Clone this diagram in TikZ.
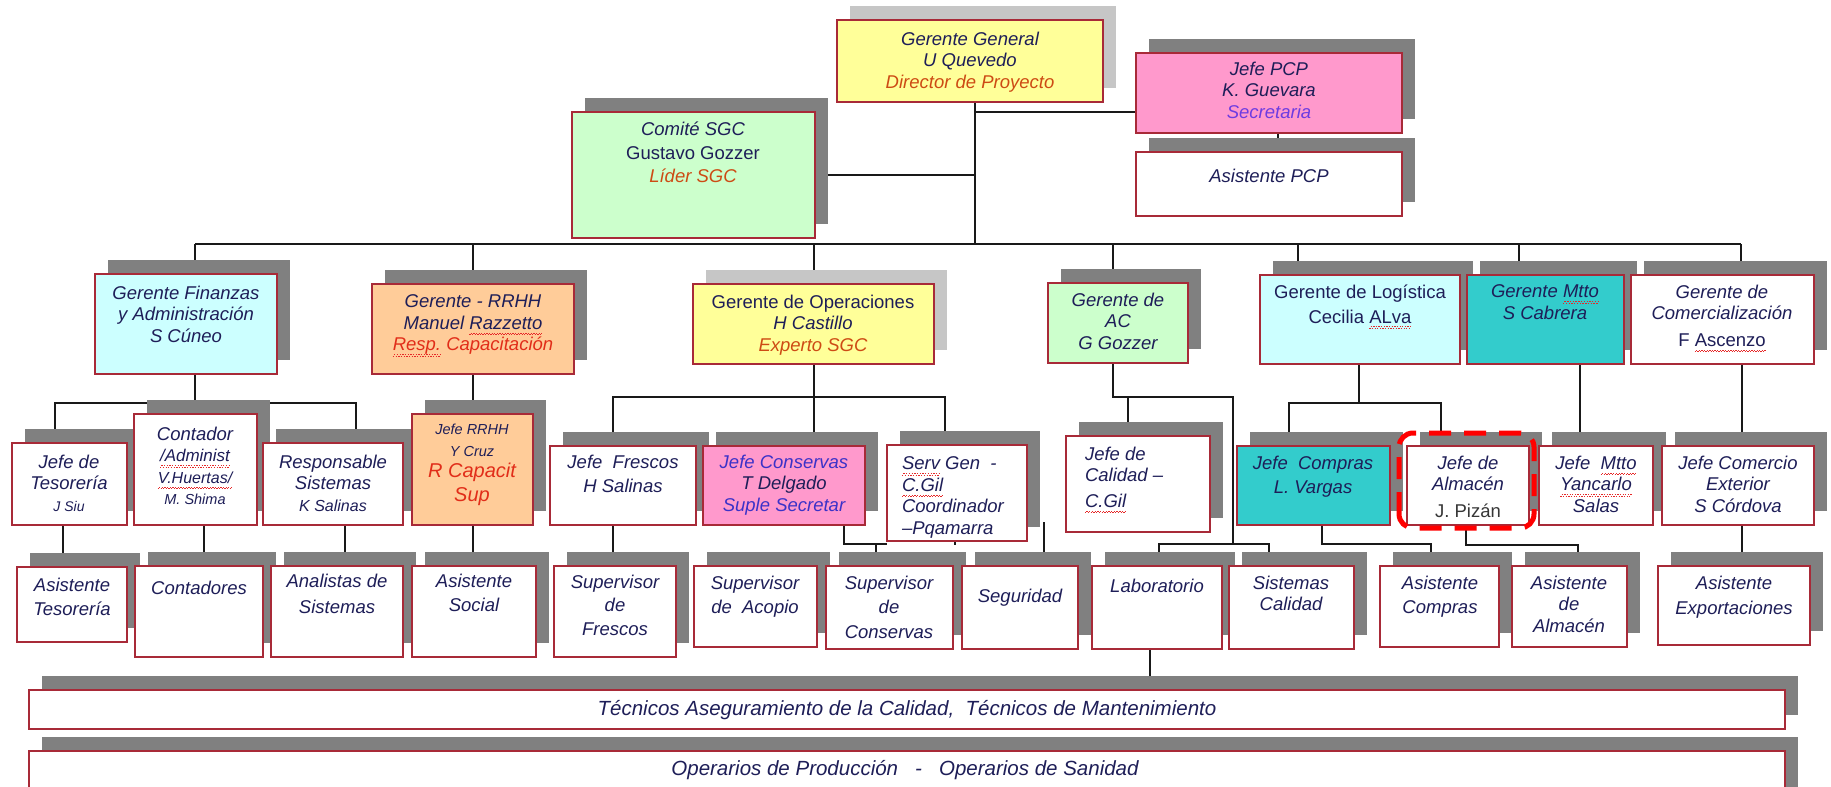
\documentclass[tikz,border=0pt]{standalone}
\usepackage{fontspec}
\setmainfont{Liberation Sans}
\usetikzlibrary{shadows,backgrounds}

\definecolor{cInk}{RGB}{30,30,88}
\definecolor{cFrame}{RGB}{168,42,56}
\definecolor{cLine}{RGB}{25,25,25}
\definecolor{cShDark}{RGB}{128,128,128}
\definecolor{cShLight}{RGB}{198,198,198}
\definecolor{cYellow}{RGB}{255,255,153}
\definecolor{cPink}{RGB}{255,153,204}
\definecolor{cGreen}{RGB}{204,255,204}
\definecolor{cCyan}{RGB}{204,255,255}
\definecolor{cPeach}{RGB}{255,204,153}
\definecolor{cTeal}{RGB}{51,204,204}
\definecolor{cRed}{RGB}{225,45,25}
\definecolor{cOrange}{RGB}{205,75,20}
\definecolor{cViolet}{RGB}{110,60,225}
\definecolor{cBlue}{RGB}{60,50,200}
\definecolor{cGrayTxt}{RGB}{55,55,55}
\definecolor{cHilite}{RGB}{255,0,0}
\definecolor{cSpell}{RGB}{230,40,40}

\pgfdeclarelayer{paper}
\pgfsetlayers{paper,background,main}

\tikzset{
  boxbase/.style={rectangle, draw=cFrame, line width=1.5pt, fill=white, inner sep=0pt, outer sep=0pt},
  box/.style={boxbase, general shadow={fill=cShDark, shadow xshift=13pt, shadow yshift=14pt}},
  lbox/.style={boxbase, general shadow={fill=cShLight, shadow xshift=13pt, shadow yshift=14pt}},
  txt/.style={anchor=north, inner sep=0pt, outer sep=0pt, align=center, text=cInk,
    font=\fontsize{18.5}{21.5}\selectfont\itshape, execute at begin node={\rule{0pt}{16.5pt}}},
  ltxt/.style={txt, anchor=north west, align=left},
  wtxt/.style={txt, font=\fontsize{20.5}{24}\selectfont\itshape},
  conn/.style={draw=cLine, line width=1.6pt},
  focus/.style={draw=cHilite, line width=5pt, dash pattern=on 22pt off 13pt, rounded corners=14pt}
}

% \orgbox[style]{name}{x1}{y1}{x2}{y2}{fill}
\newcommand\orgbox[7][box]{%
  \node[#1, fill=#7, minimum width={(#5-#3)*1pt}, minimum height={(#6-#4)*1pt}] (#2) at ({(#3+#5)/2},{(#4+#6)/2}) {};}
\newcommand\sz[1]{\fontsize{#1}{#1}\selectfont}
% red wavy underline of a flagged word, built from tiny rules
\newsavebox\spellbox
\newcommand\spell[1]{\sbox\spellbox{#1}%
  \rlap{\textcolor{cSpell}{\hbox to \wd\spellbox{\xleaders\hbox{\rule[-5.6pt]{1.3pt}{1pt}\rule[-4.2pt]{1.3pt}{1pt}}\hfil}}}%
  \usebox\spellbox}

\begin{document}
\begin{tikzpicture}[x=1pt,y=-1pt]
\path[use as bounding box] (0,0) rectangle (1831,787);
\clip (0,0) rectangle (1831,787);
\begin{pgfonlayer}{paper}
\fill[white] (0,0) rectangle (1831,787);
\end{pgfonlayer}

% ---------- top management ----------
\orgbox[lbox]{gg}{837}{20}{1103}{102}{cYellow}
\orgbox{pcp}{1136}{53}{1402}{133}{cPink}
\orgbox{com}{572}{112}{815}{238}{cGreen}
\orgbox{apcp}{1136}{152}{1402}{216}{white}

% ---------- managers ----------
\orgbox{fin}{95}{274}{277}{374}{cCyan}
\orgbox{rrhh}{372}{284}{574}{374}{cPeach}
\orgbox[lbox]{ope}{693}{284}{934}{364}{cYellow}
\orgbox{ac}{1048}{283}{1188}{363}{cGreen}
\orgbox{log}{1260}{275}{1460}{364}{cCyan}
\orgbox{mtto}{1467}{275}{1624}{364}{cTeal}
\orgbox{cmz}{1631}{275}{1814}{364}{white}

% ---------- heads ----------
\orgbox{teso}{12}{443}{127}{525}{white}
\orgbox{cont}{134}{414}{257}{525}{white}
\orgbox{rsis}{263}{443}{403}{525}{white}
\orgbox{jrrhh}{412}{414}{533}{525}{cPeach}
\orgbox{fres}{550}{446}{696}{525}{white}
\orgbox{cons}{703}{446}{865}{525}{cPink}
\orgbox{sgen}{887}{445}{1027}{541}{white}
\orgbox{cal}{1066}{436}{1210}{532}{white}
\orgbox{comp}{1237}{446}{1390}{525}{cTeal}
\orgbox{alm}{1407}{446}{1529}{525}{white}
\orgbox{jmtto}{1539}{446}{1653}{525}{white}
\orgbox{jcex}{1662}{446}{1814}{525}{white}

% ---------- staff ----------
\orgbox{ates}{17}{567}{127}{642}{white}
\orgbox{conts}{135}{566}{263}{657}{white}
\orgbox{anal}{271}{566}{403}{657}{white}
\orgbox{asoc}{412}{566}{536}{657}{white}
\orgbox{sfres}{554}{566}{676}{657}{white}
\orgbox{sacop}{694}{566}{817}{647}{white}
\orgbox{scons}{826}{566}{953}{649}{white}
\orgbox{segu}{962}{566}{1078}{649}{white}
\orgbox{lab}{1092}{566}{1222}{649}{white}
\orgbox{scal}{1229}{566}{1354}{649}{white}
\orgbox{acom}{1380}{566}{1499}{647}{white}
\orgbox{aalm}{1512}{566}{1627}{647}{white}
\orgbox{aexp}{1658}{566}{1810}{645}{white}

% ---------- operating staff ----------
\orgbox{tec}{29}{690}{1785}{729}{white}
\orgbox{opr}{29}{751}{1785}{805}{white}

% ---------- texts ----------
\node[txt] (t-gg) at (970,32) {Gerente General\\U Quevedo\\{\color{cOrange}Director de Proyecto}};
\node[txt] (t-pcp) at (1269,62) {Jefe PCP\\K. Guevara\\{\color{cViolet}Secretaria}};
\node[txt] (t-com) at (693,122) {Comité SGC\\[2pt]{\upshape Gustavo Gozzer}\\[2pt]{\color{cOrange}Líder SGC}};
\node[txt] (t-apcp) at (1269,166) {Asistente PCP};

\node[txt] (t-fin) at (186,286) {Gerente Finanzas\\y Administración\\S Cúneo};
\node[txt] (t-rrhh) at (473,295) {Gerente - RRHH\\Manuel \spell{Razzetto}\\{\color{cRed}\spell{Resp.} Capacitación}};
\node[txt] (t-ope) at (813,295) {{\upshape Gerente de Operaciones}\\H Castillo\\{\color{cOrange}Experto SGC}};
\node[txt] (t-ac) at (1118,293) {Gerente de\\AC\\G Gozzer};
\node[txt] (t-log) at (1360,285) {\upshape Gerente de Logística\\[3pt]\upshape Cecilia \spell{ALva}};
\node[txt] (t-mtto) at (1545,285) {Gerente \spell{Mtto}\\S Cabrera};
\node[txt] (t-cmz) at (1722,285) {Gerente de\\Comercialización\\[5pt]{\upshape F \spell{Ascenzo}}};

\node[txt] (t-teso) at (69,455) {Jefe de\\Tesorería\\{\sz{14}J Siu}};
\node[txt] (t-cont) at (195,427) {Contador\\{\sz{17}\spell{/Administ}}\\{\sz{16}\spell{V.Huertas/}}\\{\sz{14.5}M. Shima}};
\node[txt] (t-rsis) at (333,455) {Responsable\\Sistemas\\{\sz{16}K Salinas}};
\node[txt] (t-jrrhh) at (472,424) {{\sz{14.5}Jefe RRHH}\\{\sz{14.5}Y Cruz}\\{\color{cRed}\sz{20}R Capacit}\\[2pt]{\color{cRed}\sz{20}Sup}};
\node[txt] (t-fres) at (623,455) {Jefe~~Frescos\\[3pt]H Salinas};
\node[txt] (t-cons) at (784,455) {{\color{cBlue}Jefe Conservas}\\T Delgado\\{\color{cBlue}Suple Secretar}};
\node[ltxt] (t-sgen) at (902,457) {\spell{Serv} Gen~~-\\\spell{C.Gil}\\Coordinador\\–Pqamarra};
\node[ltxt] (t-cal) at (1085,447) {Jefe de\\Calidad –\\[4pt]\spell{C.Gil}};
\node[txt] (t-comp) at (1313,456) {Jefe~~Compras\\[3pt]L. Vargas};
\node[txt] (t-alm) at (1468,456) {Jefe de\\Almacén\\[5pt]{\upshape\color{cGrayTxt}J. Pizán}};
\node[txt] (t-jmtto) at (1596,456) {Jefe~~\spell{Mtto}\\\spell{Yancarlo}\\Salas};
\node[txt] (t-jcex) at (1738,456) {Jefe Comercio\\Exterior\\S Córdova};

\node[txt] (t-ates) at (72,578) {Asistente\\[3pt]Tesorería};
\node[txt] (t-conts) at (199,578) {Contadores};
\node[txt] (t-anal) at (337,574) {Analistas de\\[5pt]Sistemas};
\node[txt] (t-asoc) at (474,574) {Asistente\\[3pt]Social};
\node[txt] (t-sfres) at (615,575) {Supervisor\\[2pt]de\\[2pt]Frescos};
\node[txt] (t-sacop) at (755,576) {Supervisor\\[3pt]de~~Acopio};
\node[txt] (t-scons) at (889,576) {Supervisor\\[3pt]de\\[3pt]Conservas};
\node[txt] (t-segu) at (1020,586) {Seguridad};
\node[txt] (t-lab) at (1157,576) {Laboratorio};
\node[txt] (t-scal) at (1291,576) {Sistemas\\Calidad};
\node[txt] (t-acom) at (1440,576) {Asistente\\[3pt]Compras};
\node[txt] (t-aalm) at (1569,576) {Asistente\\de\\Almacén};
\node[txt] (t-aexp) at (1734,576) {Asistente\\[4pt]Exportaciones};

\node[wtxt] (t-tec) at (907,699) {Técnicos Aseguramiento de la Calidad,~~Técnicos de Mantenimiento};
\node[wtxt] (t-opr) at (905,759) {Operarios de Producción~~~-~~~Operarios de Sanidad};

% highlighted head of warehouse
\draw[focus] (alm.south west) ++(-8,3) rectangle ([xshift=5pt,yshift=13pt]alm.north east);

% ---------- connectors ----------
\begin{pgfonlayer}{background}
\draw[conn] (gg.south -| 975,0) -- (975,244);
\draw[conn] (com.east |- 0,175) -- (975,175);
\draw[conn] (975,112) -- (pcp.west |- 0,112);
\draw[conn] (pcp.south -| 1278,0) -- (apcp.north -| 1278,0);

\draw[conn] (195,244) -- (1741,244);
\foreach \x/\n in {195/fin,473/rrhh,814/ope,1113/ac,1298/log,1519/mtto,1741/cmz}
  \draw[conn] (\x,244) -- (\n.north -| \x,0);

\draw[conn] (fin.south -| 195,0) -- (cont.north -| 195,0);
\draw[conn] (teso.north -| 55,0) |- (356,403) -- (rsis.north -| 356,0);
\draw[conn] (rrhh.south -| 473,0) -- (jrrhh.north -| 473,0);
\draw[conn] (ope.south -| 814,0) -- (cons.north -| 814,0);
\draw[conn] (fres.north -| 613,0) |- (945,397) -- (sgen.north -| 945,0);
\draw[conn] (ac.south -| 1113,0) |- (1233,397) -- (1233,544);
\draw[conn] (1128,397) -- (cal.north -| 1128,0);
\draw[conn] (lab.north -| 1159,0) |- (1269,544) -- (scal.north -| 1269,0);
\draw[conn] (log.south -| 1359,0) -- (1359,403);
\draw[conn] (comp.north -| 1289,0) |- (1441,403) -- (alm.north -| 1441,0);
\draw[conn] (mtto.south -| 1580,0) -- (jmtto.north -| 1580,0);
\draw[conn] (cmz.south -| 1742,0) -- (jcex.north -| 1742,0);

\draw[conn] (teso.south -| 63,0) -- (ates.north -| 63,0);
\draw[conn] (cont.south -| 204,0) -- (conts.north -| 204,0);
\draw[conn] (rsis.south -| 345,0) -- (anal.north -| 345,0);
\draw[conn] (jrrhh.south -| 473,0) -- (asoc.north -| 473,0);
\draw[conn] (fres.south -| 613,0) -- (sfres.north -| 613,0);
\draw[conn] (cons.south -| 844,0) |- (sgen.west |- 0,544);
\draw[conn] (876,544) -- (scons.north -| 876,0);
\draw[conn] (sgen.south -| 955,0) -- (955,545);
\draw[conn] (1044,522) -- (segu.north -| 1044,0);
\draw[conn] (comp.south -| 1322,0) |- (1431,544) -- (acom.north -| 1431,0);
\draw[conn] (alm.south -| 1466,0) |- (1578,545) -- (aalm.north -| 1578,0);
\draw[conn] (jcex.south -| 1742,0) -- (aexp.north -| 1742,0);
\draw[conn] (lab.south -| 1150,0) -- (tec.north -| 1150,0);
\end{pgfonlayer}
\end{tikzpicture}
\end{document}
